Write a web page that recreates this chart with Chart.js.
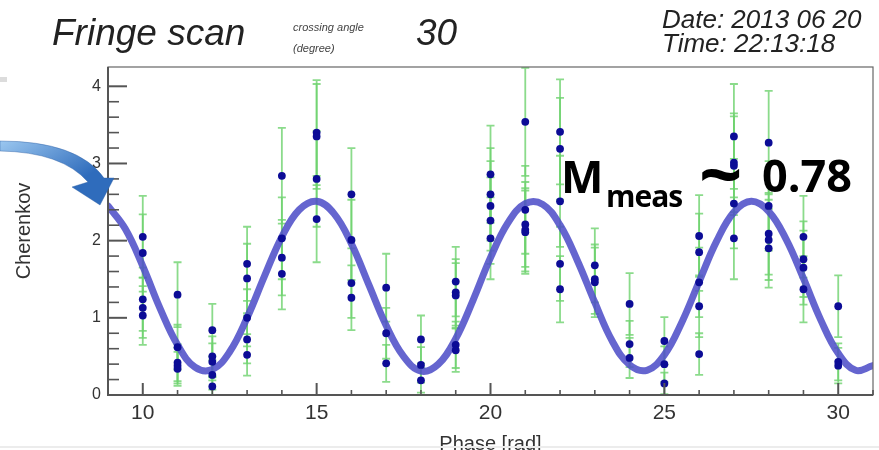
<!DOCTYPE html>
<html>
<head>
<meta charset="utf-8">
<script src="https://cdn.jsdelivr.net/npm/chart.js@4.4.1/dist/chart.umd.min.js"></script>
<style>
  html, body { margin: 0; padding: 0; background: #fff; }
  #wrap { position: relative; width: 879px; height: 450px; overflow: hidden; }
  #fringe { position: absolute; left: 0; top: 0; }
  .txt { position: absolute; white-space: nowrap; line-height: 1; }
  .hdr { font-family: "Liberation Sans", Arial, sans-serif; font-style: italic; color: #222; }
  .big { font-family: "Open Sans", sans-serif; font-weight: 700; color: #000; }
</style>
</head>
<body>
<div id="wrap">
  <canvas id="fringe" width="879" height="450"></canvas>
  <div class="txt hdr" style="left:52px; top:14px; font-size:37px;">Fringe scan</div>
  <div class="txt hdr" style="left:293px; top:21.5px; font-size:11px; color:#444;">crossing angle</div>
  <div class="txt hdr" style="left:293px; top:42.5px; font-size:11px; color:#444;">(degree)</div>
  <div class="txt hdr" style="left:416px; top:14px; font-size:37px;">30</div>
  <div class="txt hdr" style="left:662px; top:6.3px; font-size:26px;">Date: 2013 06 20</div>
  <div class="txt hdr" style="left:662px; top:29.5px; font-size:26px;">Time: 22:13:18</div>
  <div class="txt big" style="left:561px; top:153px; font-size:45px;">M</div>
  <div class="txt big" style="left:606px; top:181px; font-size:30px; letter-spacing:-1px;">meas</div>
  <div class="txt big" style="left:699px; top:134px; font-size:76px;">~</div>
  <div class="txt big" style="left:762px; top:152px; font-size:45px;">0.78</div>
  <div style="position:absolute; left:0; top:446px; width:879px; height:2px; background:#ececec;"></div>
  <div style="position:absolute; left:0; top:77px; width:7px; height:5px; background:#dcdcdc;"></div>
</div>
<script>
// measured points, read column by column
const phase = [
  10, 10, 10, 10, 10,
  11, 11, 11, 11, 11,
  12, 12, 12, 12, 12,
  13, 13, 13, 13, 13,
  14, 14, 14, 14,
  15, 15, 15, 15,
  16, 16, 16, 16,
  17, 17, 17,
  18, 18, 18,
  19, 19, 19, 19, 19,
  20, 20, 20, 20, 20,
  21, 21, 21, 21, 21,
  22, 22, 22, 22, 22,
  23, 23, 23,
  24, 24, 24,
  25, 25, 25,
  26, 26, 26, 26, 26,
  27, 27, 27, 27, 27,
  28, 28, 28, 28, 28,
  29, 29, 29, 29,
  30, 30, 30
];
const cherenkov = [
  2.05, 1.84, 1.24, 1.13, 1.03,
  1.30, 0.62, 0.42, 0.38, 0.34,
  0.84, 0.50, 0.43, 0.26, 0.11,
  1.70, 1.51, 1.00, 0.72, 0.52,
  2.84, 2.03, 1.78, 1.57,
  3.40, 3.35, 2.80, 2.28,
  2.60, 2.01, 1.45, 1.26,
  1.39, 0.80, 0.41,
  0.72, 0.39, 0.19,
  1.47, 1.33, 1.29, 0.65, 0.58,
  2.86, 2.60, 2.45, 2.26, 2.03,
  3.54, 2.40, 2.21, 2.14, 2.11,
  3.41, 3.19, 2.51, 1.70, 1.37,
  1.68, 1.50, 1.46,
  1.18, 0.66, 0.48,
  0.70, 0.40, 0.15,
  2.06, 1.85, 1.46, 1.15, 0.53,
  3.35, 3.01, 2.97, 2.48, 2.03,
  3.27, 2.45, 2.09, 2.01, 1.90,
  2.05, 1.76, 1.65, 1.37,
  1.15, 0.43, 0.38
];
const cherenkovErr = [
  0.53, 0.50, 0.41, 0.39, 0.38,
  0.42, 0.29, 0.24, 0.23, 0.22,
  0.34, 0.26, 0.24, 0.19, 0.12,
  0.48, 0.45, 0.37, 0.31, 0.27,
  0.62, 0.53, 0.49, 0.46,
  0.68, 0.68, 0.62, 0.56,
  0.60, 0.52, 0.45, 0.42,
  0.44, 0.33, 0.24,
  0.31, 0.23, 0.16,
  0.45, 0.43, 0.42, 0.30, 0.28,
  0.63, 0.60, 0.58, 0.56, 0.53,
  0.70, 0.57, 0.55, 0.54, 0.54,
  0.68, 0.66, 0.59, 0.48, 0.43,
  0.48, 0.45, 0.45,
  0.40, 0.30, 0.26,
  0.31, 0.23, 0.14,
  0.53, 0.50, 0.45, 0.40, 0.27,
  0.68, 0.64, 0.64, 0.58, 0.53,
  0.67, 0.58, 0.53, 0.52, 0.51,
  0.53, 0.49, 0.48, 0.43,
  0.40, 0.24, 0.23
];

// fitted fringe curve, every 0.5 rad
const fitPhase = [
  9, 9.5, 10, 10.5, 11, 11.5, 12, 12.5, 13, 13.5, 14, 14.5, 15, 15.5,
  16, 16.5, 17, 17.5, 18, 18.5, 19, 19.5, 20, 20.5, 21, 21.5, 22, 22.5,
  23, 23.5, 24, 24.5, 25, 25.5, 26, 26.5, 27, 27.5, 28, 28.5, 29, 29.5,
  30, 30.5, 31
];
const fitValue = [
  2.45, 2.15, 1.67, 1.12, 0.65, 0.36, 0.33, 0.56, 1.00, 1.54, 2.05, 2.40, 2.51, 2.35,
  1.96, 1.43, 0.90, 0.50, 0.31, 0.40, 0.73, 1.23, 1.78, 2.23, 2.48, 2.47, 2.20, 1.74,
  1.20, 0.70, 0.39, 0.32, 0.52, 0.94, 1.47, 1.99, 2.37, 2.51, 2.38, 2.02, 1.51, 0.97,
  0.54, 0.32, 0.38
];

const yTicksMajor = [0, 1, 2, 3, 4];
const xTicksMajor = [10, 15, 20, 25, 30];

const errorBars = {
  id: 'errorBars',
  beforeDatasetsDraw(chart) {
    const { ctx, chartArea, scales: { x, y } } = chart;
    ctx.save();
    ctx.beginPath();
    ctx.rect(chartArea.left, chartArea.top, chartArea.right - chartArea.left, chartArea.bottom - chartArea.top);
    ctx.clip();
    ctx.strokeStyle = 'rgba(110, 210, 110, 0.8)';
    ctx.lineWidth = 1.8;
    phase.forEach((p, i) => {
      const px = x.getPixelForValue(p);
      const top = y.getPixelForValue(cherenkov[i] + cherenkovErr[i]);
      const bot = y.getPixelForValue(cherenkov[i] - cherenkovErr[i]);
      ctx.beginPath();
      ctx.moveTo(px, top);
      ctx.lineTo(px, bot);
      ctx.moveTo(px - 4, top);
      ctx.lineTo(px + 4, top);
      ctx.moveTo(px - 4, bot);
      ctx.lineTo(px + 4, bot);
      ctx.stroke();
    });
    ctx.restore();
  }
};

const frameAndTicks = {
  id: 'frameAndTicks',
  afterDatasetsDraw(chart) {
    const { ctx, chartArea: a, scales: { x, y } } = chart;
    ctx.save();
    ctx.strokeStyle = '#666';
    ctx.lineWidth = 1.2;
    ctx.strokeRect(a.left, a.top, a.right - a.left, a.bottom - a.top);
    ctx.strokeStyle = '#555';
    ctx.lineWidth = 2;
    ctx.beginPath();
    ctx.moveTo(a.left, a.top);
    ctx.lineTo(a.left, a.bottom);
    ctx.lineTo(a.right, a.bottom);
    ctx.stroke();
    y.ticks.forEach(t => {
      const v = t.value;
      if (Math.abs(v * 5 - Math.round(v * 5)) > 1e-6) return;
      const major = yTicksMajor.some(m => Math.abs(m - v) < 1e-6);
      const py = y.getPixelForValue(v);
      ctx.lineWidth = major ? 2 : 1.6;
      ctx.beginPath();
      ctx.moveTo(a.left, py);
      ctx.lineTo(a.left + (major ? 19 : 11), py);
      ctx.stroke();
    });
    x.ticks.forEach(t => {
      const major = xTicksMajor.includes(t.value);
      const px = x.getPixelForValue(t.value);
      ctx.lineWidth = major ? 2 : 1.6;
      ctx.beginPath();
      ctx.moveTo(px, a.bottom);
      ctx.lineTo(px, a.bottom - (major ? 12 : 5));
      ctx.stroke();
    });
    ctx.restore();
  },
  afterDraw(chart) {
    // the slide's callout arrow pointing at the fringe
    const ctx = chart.ctx;
    ctx.save();
    const g = ctx.createLinearGradient(0, 140, 40, 205);
    g.addColorStop(0, '#9cc8f0');
    g.addColorStop(1, '#2f6cbc');
    ctx.fillStyle = g;
    ctx.beginPath();
    ctx.moveTo(0, 141);
    ctx.quadraticCurveTo(78, 141, 104, 178);
    ctx.lineTo(114, 178);
    ctx.lineTo(100, 205);
    ctx.lineTo(72, 187);
    ctx.lineTo(88, 182);
    ctx.quadraticCurveTo(62, 152, 0, 151);
    ctx.closePath();
    ctx.fill();
    ctx.strokeStyle = 'rgba(40, 90, 160, 0.5)';
    ctx.lineWidth = 0.8;
    ctx.stroke();
    ctx.restore();
  }
};

const ctx = document.getElementById('fringe').getContext('2d');
new Chart(ctx, {
  type: 'scatter',
  data: {
    datasets: [
      {
        label: 'Cherenkov',
        data: phase.map((p, i) => ({ x: p, y: cherenkov[i] })),
        backgroundColor: '#0c0c96',
        borderWidth: 0,
        pointRadius: 3.9,
        order: 0
      },
      {
        label: 'fit',
        type: 'line',
        data: fitPhase.map((p, i) => ({ x: p, y: fitValue[i] })),
        borderColor: 'rgba(80, 80, 200, 0.88)',
        borderWidth: 7,
        borderCapStyle: 'round',
        pointRadius: 0,
        tension: 0.4,
        fill: false,
        order: 1
      }
    ]
  },
  options: {
    responsive: false,
    animation: false,
    devicePixelRatio: 1,
    layout: { padding: { left: 0, right: 3, top: 67, bottom: 0 } },
    plugins: { legend: { display: false }, tooltip: { enabled: false } },
    scales: {
      x: {
        type: 'linear',
        min: 9,
        max: 31,
        afterFit: s => { s.height = 55; },
        grid: { display: false, drawTicks: false },
        border: { display: false },
        ticks: {
          stepSize: 1,
          autoSkip: false,
          maxRotation: 0,
          padding: 6,
          color: '#333',
          font: { family: 'Liberation Sans', size: 21 },
          callback: v => (xTicksMajor.includes(v) ? String(v) : '')
        },
        title: {
          display: true,
          text: 'Phase [rad]',
          color: '#333',
          padding: { top: 0, bottom: -4 },
          font: { family: 'Liberation Sans', size: 20, lineHeight: 1 }
        }
      },
      y: {
        min: 0,
        max: 4.25,
        afterFit: s => { s.width = 108; },
        grid: { display: false, drawTicks: false },
        border: { display: false },
        ticks: {
          stepSize: 0.2,
          autoSkip: false,
          padding: 7,
          color: '#333',
          font: { family: 'Liberation Sans', size: 16 },
          callback: v => {
            const r = Math.round(v);
            return Math.abs(v - r) < 1e-6 ? String(r) : '';
          }
        },
        title: {
          display: true,
          text: 'Cherenkov',
          color: '#333',
          padding: { top: 14, bottom: 0 },
          font: { family: 'Liberation Sans', size: 20, lineHeight: 1 }
        }
      }
    }
  },
  plugins: [errorBars, frameAndTicks]
});
</script>
</body>
</html>
